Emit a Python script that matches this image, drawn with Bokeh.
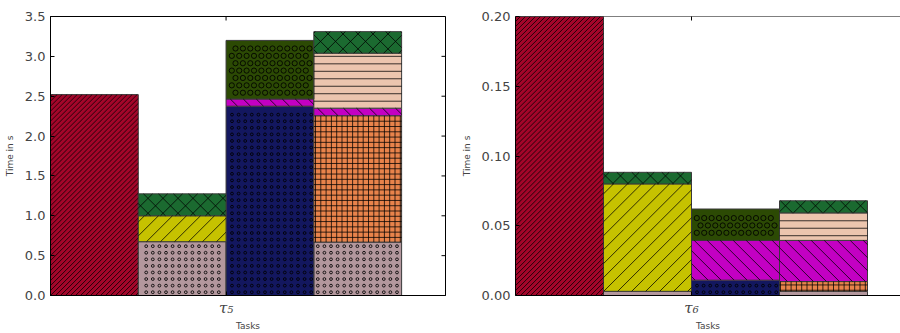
import math
import numpy as np
from bokeh.plotting import figure
from bokeh.layouts import row
from bokeh.models import Range1d, FixedTicker, NumeralTickFormatter, Span
from bokeh.embed import file_html
from bokeh.resources import INLINE

# ---- data ----
bars = ["b1", "b2", "b3", "b4"]
components = ["red", "pink", "navy", "orange", "yellow", "magenta", "peach", "olive", "green"]

t5_red     = [2.52, 0.0,   0.0,   0.0]
t5_pink    = [0.0,  0.675, 0.0,   0.67]
t5_navy    = [0.0,  0.0,   2.375, 0.0]
t5_orange  = [0.0,  0.0,   0.0,   1.585]
t5_yellow  = [0.0,  0.325, 0.0,   0.0]
t5_magenta = [0.0,  0.0,   0.09,  0.095]
t5_peach   = [0.0,  0.0,   0.0,   0.69]
t5_olive   = [0.0,  0.0,   0.735, 0.0]
t5_green   = [0.0,  0.275, 0.0,   0.27]

t6_red     = [0.2,  0.0,    0.0,    0.0]
t6_pink    = [0.0,  0.003,  0.0,    0.003]
t6_navy    = [0.0,  0.0,    0.011,  0.0]
t6_orange  = [0.0,  0.0,    0.0,    0.007]
t6_yellow  = [0.0,  0.077,  0.0,    0.0]
t6_magenta = [0.0,  0.0,    0.0285, 0.0295]
t6_peach   = [0.0,  0.0,    0.0,    0.0197]
t6_olive   = [0.0,  0.0,    0.0225, 0.0]
t6_green   = [0.0,  0.0083, 0.0,    0.0087]

t5_yticks = [0.0, 0.5, 1.0, 1.5, 2.0, 2.5, 3.0, 3.5]
t6_yticks = [0.0, 0.05, 0.10, 0.15, 0.20]
task_labels = ["τ₅", "τ₆"]
y_label = "Time in s"
x_label = "Tasks"

# ---- styles (hatch spacing in screen pixels) ----
styles = {
    "red":     dict(color="#a3062a", pattern="fwd",   space=5),
    "pink":    dict(color="#b3979d", pattern="ring",  space=6.6, ring=2.8, stagger=False),
    "navy":    dict(color="#13175f", pattern="ring",  space=6.6, ring=2.8, stagger=False),
    "orange":  dict(color="#e8834b", pattern="grid",  space=5.3),
    "yellow":  dict(color="#c6c200", pattern="fwd",   space=14),
    "magenta": dict(color="#c300c3", pattern="back",  space=13),
    "peach":   dict(color="#ecc5ae", pattern="hline", space=7.5),
    "olive":   dict(color="#2c4a04", pattern="ring",  space=7.4, ring=5.2, stagger=True),
    "green":   dict(color="#1b6a30", pattern="cross", space=15),
}

BAR_W = 0.2
FRAME_H = 280


def hatch(kind, s, X0, X1, Y0, Y1, ring=0.0, stagger=False):
    """Hatch geometry inside a rectangle given in screen pixels (y up)."""
    segs, dots = [], []
    if kind in ("fwd", "cross"):
        for k in range(math.ceil((X0 - Y1) / s), math.floor((X1 - Y0) / s) + 1):
            c = k * s
            a, b = max(X0, Y0 + c), min(X1, Y1 + c)
            if b > a:
                segs.append((a, a - c, b, b - c))
    if kind in ("back", "cross"):
        for k in range(math.ceil((X0 + Y0) / s), math.floor((X1 + Y1) / s) + 1):
            c = k * s
            a, b = max(X0, c - Y1), min(X1, c - Y0)
            if b > a:
                segs.append((a, c - a, b, c - b))
    if kind == "grid":
        for k in range(math.ceil(X0 / s), math.floor(X1 / s) + 1):
            if X0 + 0.5 < k * s < X1 - 0.5:
                segs.append((k * s, Y0, k * s, Y1))
    if kind in ("grid", "hline"):
        for k in range(math.ceil(Y0 / s), math.floor(Y1 / s) + 1):
            if Y0 + 0.5 < k * s < Y1 - 0.5:
                segs.append((X0, k * s, X1, k * s))
    if kind == "ring":
        r = ring / 2 + 0.6
        for m in range(math.floor(Y0 / s) - 1, math.ceil(Y1 / s) + 2):
            yy = m * s + s / 2
            off = s / 2 if (stagger and m % 2) else 0.0
            for k in range(math.floor(X0 / s) - 1, math.ceil(X1 / s) + 2):
                xx = k * s + off + s / 2
                if X0 + r <= xx <= X1 - r and Y0 + r <= yy <= Y1 - r:
                    dots.append((xx, yy))
    return segs, dots


def make_fig(series, ymax, yticks, fmt, label, width, left_border, right_border, x_end, full_frame):
    x_start = -0.4
    p = figure(width=width, height=333, output_backend="svg", toolbar_location=None,
               x_range=Range1d(x_start, x_end), y_range=Range1d(0, ymax),
               min_border_left=left_border, min_border_right=right_border,
               min_border_top=16, min_border_bottom=37,
               background_fill_color="white", border_fill_color="white")
    p.xgrid.visible = False
    p.ygrid.visible = False
    p.outline_line_color = "black" if full_frame else None
    p.outline_line_width = 1

    kx = (width - left_border - right_border) / (x_end - x_start)
    ky = FRAME_H / ymax

    xs = np.arange(len(bars)) * BAR_W + x_start + BAR_W / 2
    bottom = np.zeros(len(bars))
    seg = dict(x0=[], y0=[], x1=[], y1=[])
    dots = {}
    for comp in components:
        vals = np.array(series[comp], dtype=float)
        st = styles[comp]
        mask = vals > 0
        if mask.any():
            p.vbar(x=xs[mask], width=BAR_W, bottom=bottom[mask], top=(bottom + vals)[mask],
                   fill_color=st["color"], line_color="#3a3a3a", line_width=1)
            for i in np.nonzero(mask)[0]:
                top_v = min(bottom[i] + vals[i], ymax)
                X0 = (xs[i] - BAR_W / 2 - x_start) * kx
                X1 = (xs[i] + BAR_W / 2 - x_start) * kx
                Y0, Y1 = bottom[i] * ky, top_v * ky
                sg, dt = hatch(st["pattern"], st["space"], X0, X1, Y0, Y1,
                               st.get("ring", 0), st.get("stagger", False))
                for a, b, c, d in sg:
                    seg["x0"].append(a / kx + x_start); seg["y0"].append(b / ky)
                    seg["x1"].append(c / kx + x_start); seg["y1"].append(d / ky)
                if dt:
                    dd = dots.setdefault(st["ring"], ([], []))
                    for a, b in dt:
                        dd[0].append(a / kx + x_start); dd[1].append(b / ky)
        bottom = bottom + vals

    p.segment(x0=seg["x0"], y0=seg["y0"], x1=seg["x1"], y1=seg["y1"],
              line_color="black", line_width=0.9, line_alpha=0.85)
    for size, (dx, dy) in dots.items():
        p.scatter(x=dx, y=dy, marker="circle", size=size, fill_color=None,
                  line_color="black", line_width=1, line_alpha=0.85)

    # inward ticks on the right and top edges (clipped to the frame)
    if full_frame:
        p.scatter(x=[x_end] * len(yticks), y=yticks, marker="dash", size=8,
                  line_color="black", line_width=1)
    p.scatter(x=[0], y=[ymax], marker="dash", size=8, angle=np.pi / 2,
              line_color="black", line_width=1)
    if not full_frame:
        p.add_layout(Span(location=ymax, dimension="width", line_color="black", line_width=1))

    yax = p.yaxis[0]
    yax.ticker = FixedTicker(ticks=yticks)
    yax.formatter = NumeralTickFormatter(format=fmt)
    yax.axis_label = y_label
    yax.axis_label_text_font_size = "9px"
    yax.axis_label_text_font_style = "normal"
    yax.axis_label_text_font = "DejaVu Sans"
    yax.axis_label_standoff = 7
    yax.major_label_text_font = "DejaVu Sans"
    yax.major_label_text_font_size = "13px"
    yax.major_label_standoff = 5
    yax.major_tick_in = 4
    yax.major_tick_out = 0
    yax.minor_tick_in = 0
    yax.minor_tick_out = 0
    yax.axis_line_color = "black"
    yax.major_tick_line_color = "black"

    xax = p.xaxis[0]
    xax.ticker = FixedTicker(ticks=[0])
    xax.major_label_overrides = {0: label}
    xax.major_label_text_font = "DejaVu Serif"
    xax.major_label_text_font_style = "italic"
    xax.major_label_text_font_size = "15px"
    xax.major_label_standoff = 3
    xax.axis_label = x_label
    xax.axis_label_text_font_size = "9px"
    xax.axis_label_text_font_style = "normal"
    xax.axis_label_text_font = "DejaVu Sans"
    xax.axis_label_standoff = 1
    xax.major_tick_in = 4
    xax.major_tick_out = 0
    xax.minor_tick_in = 0
    xax.minor_tick_out = 0
    xax.axis_line_color = "black"
    return p


s5 = dict(red=t5_red, pink=t5_pink, navy=t5_navy, orange=t5_orange, yellow=t5_yellow,
          magenta=t5_magenta, peach=t5_peach, olive=t5_olive, green=t5_green)
s6 = dict(red=t6_red, pink=t6_pink, navy=t6_navy, orange=t6_orange, yellow=t6_yellow,
          magenta=t6_magenta, peach=t6_peach, olive=t6_olive, green=t6_green)

p1 = make_fig(s5, 3.5, t5_yticks, "0.0", task_labels[0], 457, 50, 12, 0.5, True)
p2 = make_fig(s6, 0.2, t6_yticks, "0.00", task_labels[1], 443, 58, 0, 0.475, False)

layout = row(p1, p2, spacing=0)
open("out.html", "w").write(file_html(layout, INLINE))
